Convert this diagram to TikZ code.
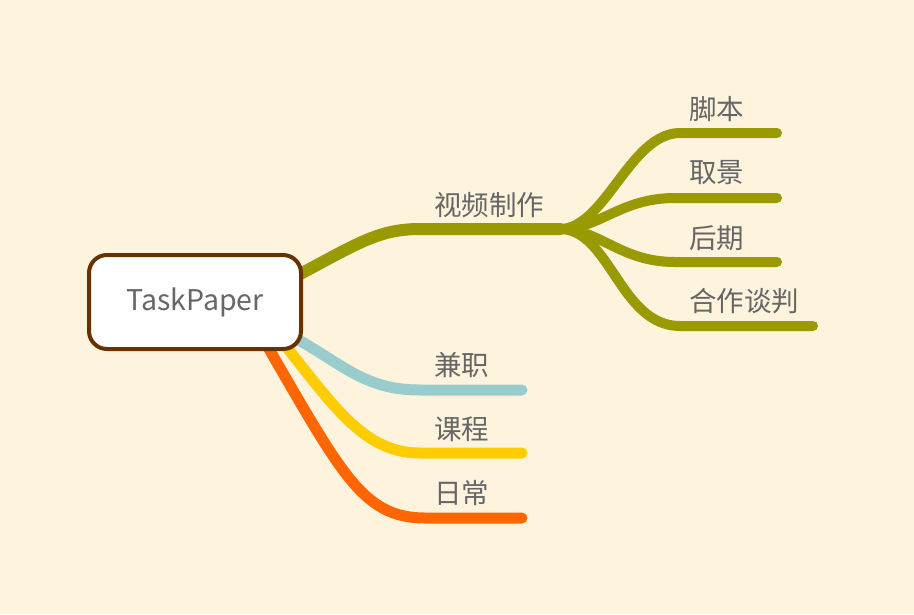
\documentclass[tikz,border=0pt]{standalone}
\usepackage{fontspec}
\setmainfont{Noto Sans CJK SC}
\begin{document}
\begin{tikzpicture}[x=1pt,y=-1pt,
  branch/.style={line cap=round, line width=#1},
  lbl/.style={anchor=west, inner sep=0pt, text=black!60, font=\fontsize{27.5}{30}\selectfont},
  root/.style={draw=rootbrown, line width=4pt, fill=white, rounded corners=18pt,
    minimum width=212pt, minimum height=94pt, text=black!60, font=\fontsize{28.5}{31}\selectfont}]
\definecolor{bg}{HTML}{FEF3DC}
\definecolor{olive}{HTML}{999900}
\definecolor{teal}{HTML}{99CCCC}
\definecolor{gold}{HTML}{FFCC00}
\definecolor{orng}{HTML}{FF6600}
\definecolor{rootbrown}{HTML}{663300}
\fill[bg] (0,0) rectangle (914,614);
\useasboundingbox (0,0) rectangle (914,614);
% coordinates
\coordinate (rs) at (250,300);
\coordinate (mainbend) at (420,229);
\coordinate (fork) at (560,229);
\coordinate (e1) at (777,133);
\coordinate (e2) at (777,198);
\coordinate (e3) at (777,262);
\coordinate (e4) at (813,326);
\coordinate (b1) at (420,390);
\coordinate (b1e) at (522,390);
\coordinate (b2) at (420,453);
\coordinate (b2e) at (522,453);
\coordinate (b3) at (425,518);
\coordinate (b3e) at (522,518);
% branches
\draw[olive, branch=12pt] (rs) .. controls (350,250) and (370,229) .. (mainbend) -- (fork);
\draw[olive, branch=10pt] (fork) .. controls (605,229) and (630,133) .. (680,133) -- (e1);
\draw[olive, branch=10pt] (fork) .. controls (600,229) and (620,198) .. (675,198) -- (e2);
\draw[olive, branch=10pt] (fork) .. controls (600,229) and (620,262) .. (675,262) -- (e3);
\draw[olive, branch=10pt] (fork) .. controls (610,229) and (620,326) .. (680,326) -- (e4);
\draw[teal, branch=11pt] (280,330) .. controls (340,360) and (360,390) .. (b1) -- (b1e);
\draw[gold, branch=11pt] (265,320) .. controls (330,400) and (360,453) .. (b2) -- (b2e);
\draw[orng, branch=11pt] (255,325) .. controls (340,470) and (360,518) .. (b3) -- (b3e);
% root
\node[root] (r) at (195,302) {TaskPaper};
% labels
\node[lbl] (l0) at (434,205) {视频制作};
\node[lbl] (l1) at (689,109) {脚本};
\node[lbl] (l2) at (689,173) {取景};
\node[lbl] (l3) at (689,238) {后期};
\node[lbl] (l4) at (689,301) {合作谈判};
\node[lbl] (l5) at (434,365) {兼职};
\node[lbl] (l6) at (434,429) {课程};
\node[lbl] (l7) at (434,493) {日常};
\end{tikzpicture}
\end{document}
